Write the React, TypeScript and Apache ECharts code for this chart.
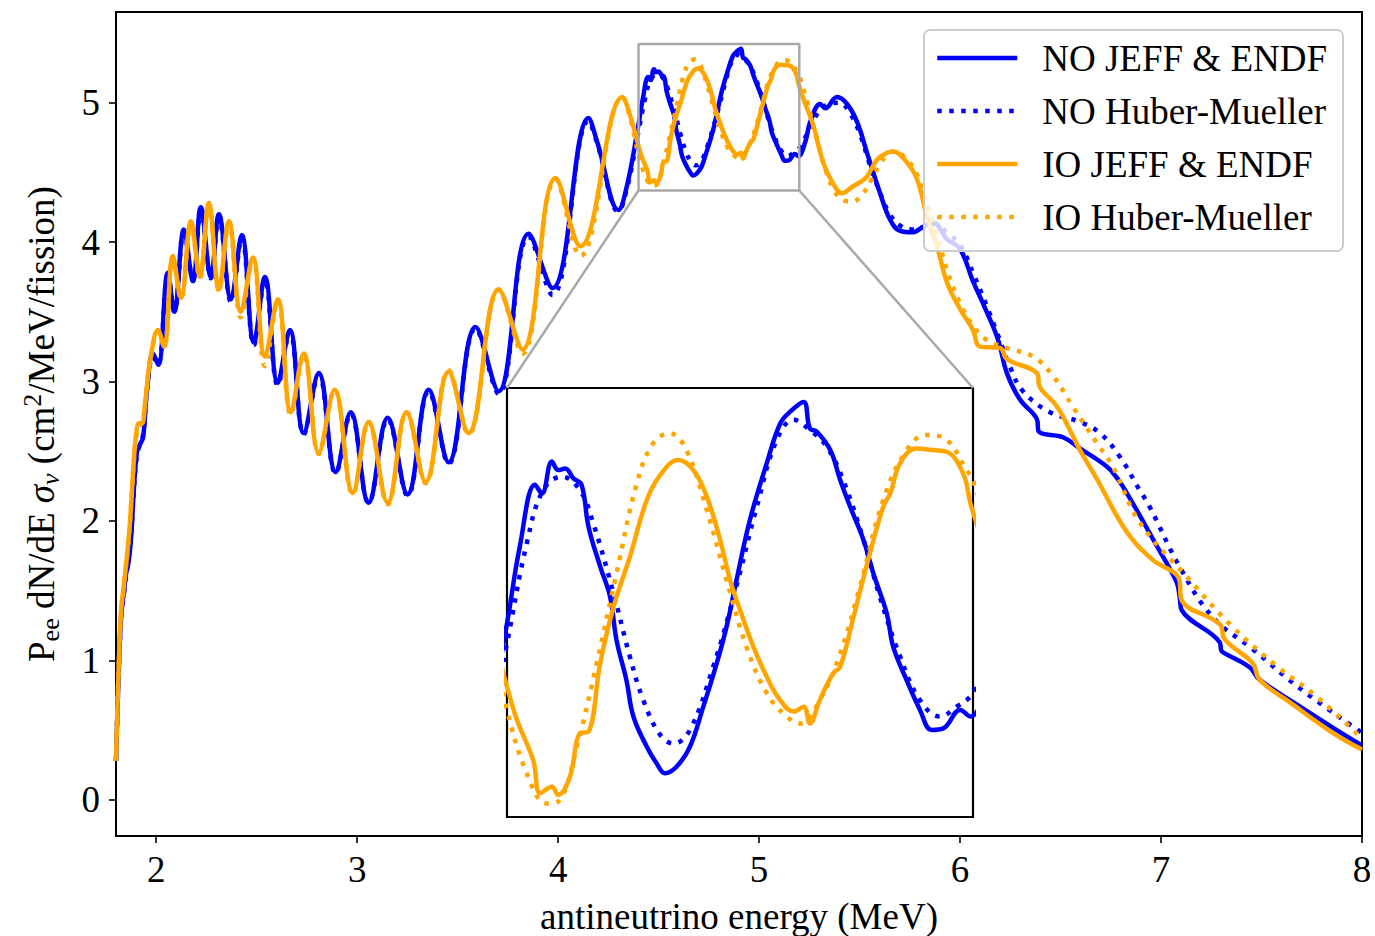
import React, { useEffect, useRef } from "react";
import * as echarts from "echarts";

const FONT = "'Liberation Serif', 'Times New Roman', 'DejaVu Serif', serif";
const BLUE = "#0000ff";
const ORANGE = "#ffa500";

const seriesNames = ["NO JEFF & ENDF", "NO Huber-Mueller", "IO JEFF & ENDF", "IO Huber-Mueller"];
const xTicks = [2, 3, 4, 5, 6, 7, 8];
const yTicks = [0, 1, 2, 3, 4, 5];
const xRange = [1.8, 8.0];
const yRange = [-0.26, 5.65];
const insetX = [4.4, 5.2];
const insetY = [4.37, 5.42];

const noJeff = [
  [1.8, 0.28], [1.812, 0.85], [1.825, 1.3], [1.84, 1.5], [1.85, 1.62], [1.862, 1.7], [1.875, 1.88],
  [1.89, 2.25], [1.905, 2.5], [1.92, 2.55], [1.935, 2.6], [1.955, 2.95], [1.984, 3.2], [2.01, 3.12],
  [2.058, 3.78], [2.09, 3.5], [2.138, 4.09], [2.183, 3.72], [2.222, 4.25], [2.272, 3.75], [2.312, 4.2],
  [2.372, 3.59], [2.426, 4.05], [2.486, 3.28], [2.541, 3.75], [2.605, 2.99], [2.665, 3.37], [2.734, 2.63],
  [2.809, 3.06], [2.893, 2.35], [2.968, 2.78], [3.057, 2.13], [3.152, 2.74], [3.251, 2.19], [3.356, 2.94],
  [3.455, 2.42], [3.589, 3.39], [3.704, 2.93], [3.853, 4.06], [3.972, 3.67], [4.151, 4.89], [4.196, 4.71],
  [4.3, 4.23], [4.345, 4.42],
  [4.4, 4.844], [4.422, 5.032], [4.448, 5.183], [4.46, 5.162], [4.477, 5.24], [4.488, 5.219], [4.5, 5.223],
  [4.514, 5.199], [4.528, 5.183], [4.54, 5.08], [4.56, 4.983], [4.577, 4.909], [4.588, 4.803], [4.605, 4.705],
  [4.617, 4.616], [4.64, 4.542], [4.657, 4.501], [4.671, 4.477], [4.691, 4.493], [4.714, 4.542], [4.737, 4.64],
  [4.76, 4.746], [4.777, 4.836], [4.794, 4.95], [4.817, 5.097], [4.846, 5.236], [4.869, 5.333], [4.886, 5.362],
  [4.909, 5.386], [4.92, 5.321], [4.932, 5.313], [4.955, 5.268], [4.972, 5.195], [4.989, 5.13], [5.012, 5.048],
  [5.029, 4.966], [5.052, 4.868], [5.063, 4.787], [5.086, 4.705], [5.109, 4.632], [5.129, 4.583], [5.149, 4.587],
  [5.178, 4.632], [5.195, 4.616], [5.23, 4.72],
  [5.254, 4.86], [5.304, 4.99], [5.329, 4.96], [5.388, 5.04], [5.438, 4.99], [5.488, 4.86], [5.537, 4.64],
  [5.602, 4.35], [5.652, 4.16], [5.701, 4.08], [5.766, 4.07], [5.806, 4.1], [5.866, 4.14], [5.935, 4.02],
  [6.0, 3.95], [6.064, 3.72], [6.114, 3.56], [6.189, 3.3], [6.233, 3.06], [6.298, 2.87], [6.382, 2.73],
  [6.392, 2.64], [6.512, 2.6], [6.596, 2.52], [6.73, 2.39], [6.78, 2.31], [6.83, 2.2], [6.979, 1.82],
  [7.078, 1.56], [7.093, 1.45], [7.103, 1.36], [7.292, 1.13], [7.3, 1.07], [7.317, 1.05], [7.441, 0.95],
  [7.491, 0.86], [7.69, 0.67], [7.874, 0.5], [8.0, 0.39],
];

const noHM = [
  [1.8, 0.28], [1.812, 0.85], [1.825, 1.28], [1.84, 1.48], [1.85, 1.6], [1.862, 1.72], [1.875, 1.9],
  [1.89, 2.25], [1.905, 2.48], [1.92, 2.55], [1.935, 2.62], [1.955, 2.95], [1.984, 3.18], [2.01, 3.12],
  [2.058, 3.76], [2.09, 3.5], [2.138, 4.07], [2.183, 3.72], [2.222, 4.23], [2.272, 3.74], [2.312, 4.18],
  [2.372, 3.57], [2.426, 4.03], [2.486, 3.26], [2.541, 3.73], [2.605, 2.97], [2.665, 3.36], [2.734, 2.62],
  [2.809, 3.05], [2.893, 2.34], [2.968, 2.77], [3.057, 2.13], [3.152, 2.73], [3.251, 2.18], [3.356, 2.93],
  [3.455, 2.41], [3.589, 3.38], [3.704, 2.91], [3.853, 4.04], [3.972, 3.62], [4.151, 4.87], [4.196, 4.7],
  [4.3, 4.22], [4.345, 4.4],
  [4.4, 4.795], [4.434, 5.04], [4.462, 5.17], [4.494, 5.203], [4.525, 5.17], [4.548, 5.089], [4.583, 4.917],
  [4.611, 4.762], [4.634, 4.656], [4.663, 4.571], [4.686, 4.55], [4.714, 4.583], [4.754, 4.738], [4.789, 4.909],
  [4.829, 5.13], [4.863, 5.293], [4.892, 5.342], [4.92, 5.317], [4.949, 5.276], [4.977, 5.195], [5.012, 5.048],
  [5.04, 4.909], [5.075, 4.762], [5.109, 4.656], [5.143, 4.616], [5.172, 4.64], [5.2, 4.673],
  [5.254, 4.82], [5.304, 4.95], [5.35, 4.99], [5.4, 5.0], [5.45, 4.93], [5.5, 4.78], [5.55, 4.56],
  [5.6, 4.36], [5.65, 4.2], [5.7, 4.12], [5.76, 4.09], [5.82, 4.11], [5.87, 4.13], [5.94, 4.06],
  [6.0, 3.98], [6.07, 3.76], [6.13, 3.55], [6.184, 3.35], [6.25, 3.1], [6.313, 2.93], [6.447, 2.78],
  [6.596, 2.71], [6.696, 2.63], [6.795, 2.46], [6.894, 2.22], [6.944, 2.1], [7.093, 1.67], [7.257, 1.31],
  [7.456, 1.08], [7.69, 0.8], [8.0, 0.48],
];

const ioJeff = [
  [1.8, 0.28], [1.812, 0.9], [1.825, 1.35], [1.84, 1.55], [1.855, 1.75], [1.87, 2.0], [1.885, 2.35],
  [1.9, 2.62], [1.915, 2.7], [1.93, 2.7], [1.945, 2.85], [1.97, 3.15], [2.009, 3.37], [2.039, 3.25],
  [2.083, 3.9], [2.123, 3.6], [2.173, 4.15], [2.217, 3.75], [2.262, 4.28], [2.312, 3.66], [2.362, 4.15],
  [2.421, 3.5], [2.481, 3.89], [2.541, 3.18], [2.605, 3.59], [2.67, 2.78], [2.734, 3.2], [2.809, 2.49],
  [2.888, 2.94], [2.978, 2.2], [3.057, 2.71], [3.152, 2.13], [3.246, 2.78], [3.341, 2.28], [3.455, 3.07],
  [3.554, 2.63], [3.704, 3.66], [3.823, 3.23], [3.987, 4.46], [4.111, 3.97], [4.32, 5.04], [4.36, 4.9],
  [4.4, 4.689], [4.417, 4.608], [4.445, 4.509], [4.457, 4.428], [4.477, 4.444], [4.488, 4.424], [4.508, 4.469],
  [4.525, 4.575], [4.54, 4.579], [4.56, 4.746], [4.583, 4.885], [4.611, 5.007], [4.64, 5.146], [4.663, 5.207],
  [4.694, 5.244], [4.72, 5.219], [4.743, 5.154], [4.766, 5.048], [4.783, 4.95], [4.8, 4.877], [4.823, 4.787],
  [4.846, 4.713], [4.869, 4.656], [4.892, 4.628], [4.909, 4.64], [4.92, 4.599], [4.937, 4.656], [4.96, 4.722],
  [4.972, 4.738], [4.995, 4.86], [5.017, 4.983], [5.046, 5.13], [5.058, 5.162], [5.075, 5.236], [5.103, 5.272],
  [5.132, 5.268], [5.155, 5.264], [5.183, 5.211], [5.197, 5.13],
  [5.23, 4.99], [5.269, 4.84], [5.319, 4.57], [5.364, 4.43], [5.413, 4.35], [5.468, 4.4], [5.503, 4.43],
  [5.537, 4.47], [5.587, 4.59], [5.637, 4.64], [5.667, 4.65], [5.736, 4.57], [5.786, 4.45], [5.836, 4.18],
  [5.885, 3.97], [5.935, 3.71], [6.0, 3.52], [6.064, 3.37], [6.099, 3.25], [6.199, 3.24], [6.233, 3.16],
  [6.382, 3.06], [6.397, 2.96], [6.482, 2.82], [6.561, 2.61], [6.596, 2.51], [6.681, 2.3], [6.83, 1.92],
  [6.959, 1.72], [7.088, 1.59], [7.103, 1.43], [7.292, 1.26], [7.317, 1.15], [7.456, 0.98], [7.491, 0.86],
  [7.64, 0.7], [7.854, 0.48], [8.0, 0.36],
];

const ioHM = [
  [1.8, 0.28], [1.812, 0.88], [1.825, 1.33], [1.84, 1.55], [1.855, 1.75], [1.87, 2.0], [1.885, 2.35],
  [1.9, 2.6], [1.915, 2.68], [1.93, 2.7], [1.945, 2.85], [1.97, 3.15], [2.009, 3.36], [2.039, 3.25],
  [2.083, 3.89], [2.123, 3.59], [2.173, 4.14], [2.217, 3.74], [2.262, 4.27], [2.312, 3.65], [2.362, 4.14],
  [2.421, 3.46], [2.481, 3.88], [2.541, 3.11], [2.605, 3.58], [2.67, 2.76], [2.734, 3.19], [2.809, 2.48],
  [2.888, 2.94], [2.978, 2.19], [3.057, 2.71], [3.152, 2.12], [3.246, 2.78], [3.341, 2.27], [3.455, 3.08],
  [3.554, 2.62], [3.704, 3.66], [3.823, 3.2], [3.987, 4.45], [4.111, 3.9], [4.32, 5.04], [4.36, 4.88],
  [4.4, 4.632], [4.434, 4.477], [4.468, 4.403], [4.491, 4.412], [4.52, 4.542], [4.554, 4.746], [4.588, 4.966],
  [4.623, 5.187], [4.651, 5.285], [4.68, 5.309], [4.708, 5.268], [4.743, 5.121], [4.777, 4.95], [4.811, 4.787],
  [4.846, 4.673], [4.88, 4.616], [4.903, 4.599], [4.937, 4.656], [4.972, 4.77], [5.006, 4.934], [5.046, 5.146],
  [5.086, 5.268], [5.12, 5.305], [5.155, 5.293], [5.189, 5.219], [5.2, 5.195],
  [5.24, 5.0], [5.28, 4.78], [5.32, 4.57], [5.37, 4.38], [5.42, 4.3], [5.463, 4.29], [5.518, 4.35],
  [5.56, 4.45], [5.602, 4.56], [5.64, 4.63], [5.67, 4.65], [5.736, 4.59], [5.79, 4.47], [5.84, 4.25],
  [5.89, 4.03], [5.935, 3.8], [6.0, 3.56], [6.064, 3.4], [6.13, 3.3], [6.233, 3.24], [6.362, 3.18],
  [6.462, 3.04], [6.561, 2.82], [6.68, 2.56], [6.76, 2.39], [6.894, 1.99], [7.128, 1.6], [7.356, 1.24],
  [7.575, 0.96], [7.774, 0.74], [8.0, 0.44],
];

const seriesData = [noJeff, noHM, ioJeff, ioHM];
const seriesColors = [BLUE, BLUE, ORANGE, ORANGE];
const seriesDotted = [false, true, false, true];

const zoomRect = [
  [insetX[0], insetY[0]], [insetX[1], insetY[0]], [insetX[1], insetY[1]],
  [insetX[0], insetY[1]], [insetX[0], insetY[0]],
];

function makeSeries(gridIdx: number) {
  return seriesData.map((d, i) => ({
    name: seriesNames[i],
    type: "line",
    xAxisIndex: gridIdx,
    yAxisIndex: gridIdx,
    data: d,
    symbol: "none",
    smooth: 0.4,
    clip: true,
    silent: true,
    z: 2 + i * 0.01,
    lineStyle: {
      color: seriesColors[i],
      width: 4.5,
      type: seriesDotted[i] ? [4.5, 7.5] : "solid",
      cap: "butt",
      join: "round",
    },
    itemStyle: { color: seriesColors[i] },
  }));
}

export default function App() {
  const ref = useRef<HTMLDivElement>(null);
  useEffect(() => {
    if (!ref.current) return;
    const chart = echarts.init(ref.current, undefined, { renderer: "svg" });
    const labelStyle = { fontFamily: FONT, fontSize: 37, color: "#000" };
    const option: any = {
      animation: false,
      backgroundColor: "#fff",
      grid: [
        { left: 116, top: 12, width: 1246, height: 824, show: true, borderColor: "#000", borderWidth: 2, backgroundColor: "transparent", outerBoundsMode: "none", containLabel: false },
        { left: 507, top: 388, width: 466, height: 429, show: true, borderColor: "#000", borderWidth: 2.2, backgroundColor: "#fff", outerBoundsMode: "none", containLabel: false },
      ],
      xAxis: [
        {
          type: "value", gridIndex: 0, min: xRange[0], max: xRange[1],
          axisLine: { show: true, onZero: false, lineStyle: { color: "#000", width: 2 } },
          axisTick: { show: true, length: 7, lineStyle: { color: "#000", width: 1.6 }, customValues: xTicks },
          axisLabel: { ...labelStyle, margin: 15, customValues: xTicks },
          splitLine: { show: false },
          name: "antineutrino energy (MeV)",
          nameLocation: "middle",
          nameGap: 62,
          nameTextStyle: { ...labelStyle },
        },
        { type: "value", gridIndex: 1, min: insetX[0], max: insetX[1], show: false, axisLine: { onZero: false }, splitLine: { show: false } },
      ],
      yAxis: [
        {
          type: "value", gridIndex: 0, min: yRange[0], max: yRange[1],
          axisLine: { show: true, onZero: false, lineStyle: { color: "#000", width: 2 } },
          axisTick: { show: true, length: 7, lineStyle: { color: "#000", width: 1.6 }, customValues: yTicks },
          axisLabel: { ...labelStyle, margin: 16, customValues: yTicks },
          splitLine: { show: false },
          name: "{n|P}{s|ee}{n| dN/dE }{i|σ}{si|ν}{n| (cm}{u|2}{n|/MeV/fission)}",
          nameLocation: "middle",
          nameRotate: 90,
          nameGap: 53,
          nameTextStyle: {
            ...labelStyle,
            rich: {
              n: { fontFamily: FONT, fontSize: 37, color: "#000", lineHeight: 44 },
              i: { fontFamily: FONT, fontSize: 37, color: "#000", lineHeight: 44, fontStyle: "italic" },
              s: { fontFamily: FONT, fontSize: 26, color: "#000", lineHeight: 22, verticalAlign: "bottom" },
              si: { fontFamily: FONT, fontSize: 26, color: "#000", lineHeight: 22, verticalAlign: "bottom", fontStyle: "italic" },
              u: { fontFamily: FONT, fontSize: 26, color: "#000", lineHeight: 24, verticalAlign: "top" },
            },
          },
        },
        { type: "value", gridIndex: 1, min: insetY[0], max: insetY[1], show: false, axisLine: { onZero: false }, splitLine: { show: false } },
      ],
      legend: {
        data: seriesNames,
        orient: "vertical",
        left: 924,
        top: 30,
        itemWidth: 80,
        itemHeight: 14,
        itemGap: 13,
        padding: [8, 16, 14, 11],
        backgroundColor: "rgba(255,255,255,0.8)",
        borderColor: "#cccccc",
        borderWidth: 2,
        borderRadius: 6,
        itemStyle: { opacity: 0 },
        lineStyle: { width: 4.5 },
        textStyle: { fontFamily: FONT, fontSize: 37, color: "#000", lineHeight: 40, padding: [0, 0, 0, 20] },
        selectedMode: false,
      },
      series: [
        ...makeSeries(0),
        {
          name: "zoom-box",
          type: "line",
          xAxisIndex: 0,
          yAxisIndex: 0,
          data: zoomRect,
          symbol: "none",
          silent: true,
          z: 5,
          lineStyle: { color: "#a9a9a9", width: 2.5 },
        },
        ...makeSeries(1),
      ],
    };
    chart.setOption(option);
    const p1 = chart.convertToPixel({ gridIndex: 0 } as any, [insetX[0], insetY[0]]) as number[];
    const q1 = chart.convertToPixel({ gridIndex: 1 } as any, [insetX[0], insetY[1]]) as number[];
    const p2 = chart.convertToPixel({ gridIndex: 0 } as any, [insetX[1], insetY[0]]) as number[];
    const q2 = chart.convertToPixel({ gridIndex: 1 } as any, [insetX[1], insetY[1]]) as number[];
    chart.setOption({
      graphic: [
        { type: "line", silent: true, z: 6, shape: { x1: p1[0], y1: p1[1], x2: q1[0], y2: q1[1] }, style: { stroke: "#a9a9a9", lineWidth: 2.5 } },
        { type: "line", silent: true, z: 6, shape: { x1: p2[0], y1: p2[1], x2: q2[0], y2: q2[1] }, style: { stroke: "#a9a9a9", lineWidth: 2.5 } },
      ],
    });
    return () => chart.dispose();
  }, []);
  return <div ref={ref} style={{ position: "fixed", left: 0, top: 0, width: 1375, height: 936, background: "#fff" }} />;
}
